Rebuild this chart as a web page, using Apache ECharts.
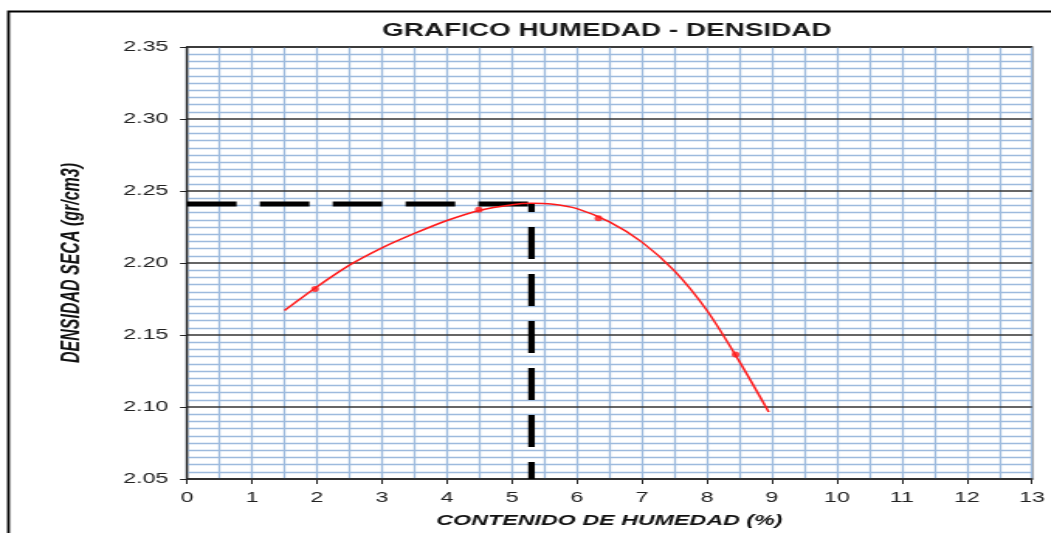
<!DOCTYPE html>
<html>
<head>
<meta charset="utf-8">
<script src="https://cdn.jsdelivr.net/npm/echarts@6/dist/echarts.min.js"></script>
<style>
  html, body { margin: 0; padding: 0; background: #fff; overflow: hidden; }
  #chart { height: 533px; transform-origin: 0 0; }
</style>
</head>
<body>
<div id="chart"></div>
<script>
// curva de compactación
var curveX = [1.5, 2.0, 2.5, 3.0, 3.5, 4.0, 4.5, 5.0, 5.3, 5.6, 6.0, 6.5, 7.0, 7.5, 8.0, 8.5, 8.95];
var curveY = [2.167, 2.1835, 2.1985, 2.2105, 2.2205, 2.2295, 2.2365, 2.2405, 2.2415, 2.2410, 2.2378, 2.2285, 2.2145, 2.1945, 2.1670, 2.1315, 2.0965];

// puntos del ensayo
var pointsX = [1.97, 4.49, 6.33, 8.44];
var pointsY = [2.182, 2.237, 2.231, 2.1365];

// humedad optima / densidad maxima
var optHumedad = 5.3;
var maxDensidad = 2.241;

var xTicks = [0, 13, 1];
var yTicks = [2.05, 2.35, 0.05];

// the original picture is stretched sideways
var SX = 1.55;
var blue = '#9dbadd';
var font = 'Liberation Sans';

function zip(a, b) {
    return a.map(function (v, i) { return [v, b[i]]; });
}
function px(v) { return v / SX; }

var el = document.getElementById('chart');
el.style.width = (1051 / SX) + 'px';
el.style.transform = 'scaleX(' + SX + ')';

var chart = echarts.init(el);
var option = {
    animation: false,
    title: {
        text: 'GRAFICO HUMEDAD - DENSIDAD',
        left: px(599), top: 17, textAlign: 'center',
        textStyle: { fontFamily: font, fontSize: 18, fontWeight: 'bold', color: '#1a1a1a' }
    },
    graphic: [{
        type: 'rect', silent: true,
        shape: { x: px(8.5), y: 11.5, width: 1100, height: 600 },
        style: { fill: 'none', stroke: '#000', lineWidth: 1.8 }
    }],
    grid: { left: px(187), right: px(19), top: 47, bottom: 50, show: true, borderColor: '#222', borderWidth: 1.3, backgroundColor: 'transparent' },
    xAxis: {
        type: 'value', min: xTicks[0], max: xTicks[1], interval: xTicks[2],
        name: 'CONTENIDO DE HUMEDAD (%)', nameLocation: 'middle', nameGap: 34,
        nameTextStyle: { fontFamily: font, fontSize: 15, fontStyle: 'italic', fontWeight: 'bold', color: '#111' },
        axisLine: { lineStyle: { color: '#222', width: 1.5 } },
        axisTick: { show: true, length: 5, lineStyle: { color: '#222' } },
        axisLabel: { fontFamily: font, fontSize: 15, color: '#222', margin: 11 },
        splitLine: { show: true, lineStyle: { color: blue, width: 1.3 } },
        minorTick: { show: false, splitNumber: 2 },
        minorSplitLine: { show: true, lineStyle: { color: blue, width: 1.3 } }
    },
    yAxis: {
        type: 'value', min: yTicks[0], max: yTicks[1], interval: yTicks[2], z: 1,
        name: 'DENSIDAD SECA (gr/cm3)', nameLocation: 'middle', nameGap: 66, nameRotate: 90,
        nameTextStyle: { fontFamily: font, fontSize: 16, fontStyle: 'italic', fontWeight: 'bold', color: '#111' },
        axisLine: { show: true, lineStyle: { color: '#222', width: 1.3 } },
        axisTick: { show: true, length: 4.5, lineStyle: { color: '#222' } },
        axisLabel: { fontFamily: font, fontSize: 15, color: '#222', margin: 12,
            formatter: function (v) { return v.toFixed(2); } },
        splitLine: { show: true, lineStyle: { color: '#333', width: 1.5 } },
        minorTick: { show: false, splitNumber: 10 },
        minorSplitLine: { show: true, lineStyle: { color: blue, width: 1.3 } }
    },
    series: [
        {
            type: 'line', data: zip(curveX, curveY), smooth: 0.3, showSymbol: false, z: 3,
            lineStyle: { color: '#ff1a1a', width: 1.5 }
        },
        {
            type: 'scatter', data: zip(pointsX, pointsY), symbolSize: [5, 6], z: 4,
            itemStyle: { color: '#ff1a1a' }
        },
        {
            type: 'line', data: [[xTicks[0], maxDensidad], [optHumedad, maxDensidad]], showSymbol: false, z: 2,
            lineStyle: { color: '#000', width: 5, type: [32, 15] }
        },
        {
            type: 'line', data: [[optHumedad, maxDensidad], [optHumedad, yTicks[0]]], showSymbol: false, z: 2,
            lineStyle: { color: '#000', width: 4.2, type: [32, 15], dashOffset: 24 }
        }
    ]
};
chart.setOption(option);
</script>
</body>
</html>
